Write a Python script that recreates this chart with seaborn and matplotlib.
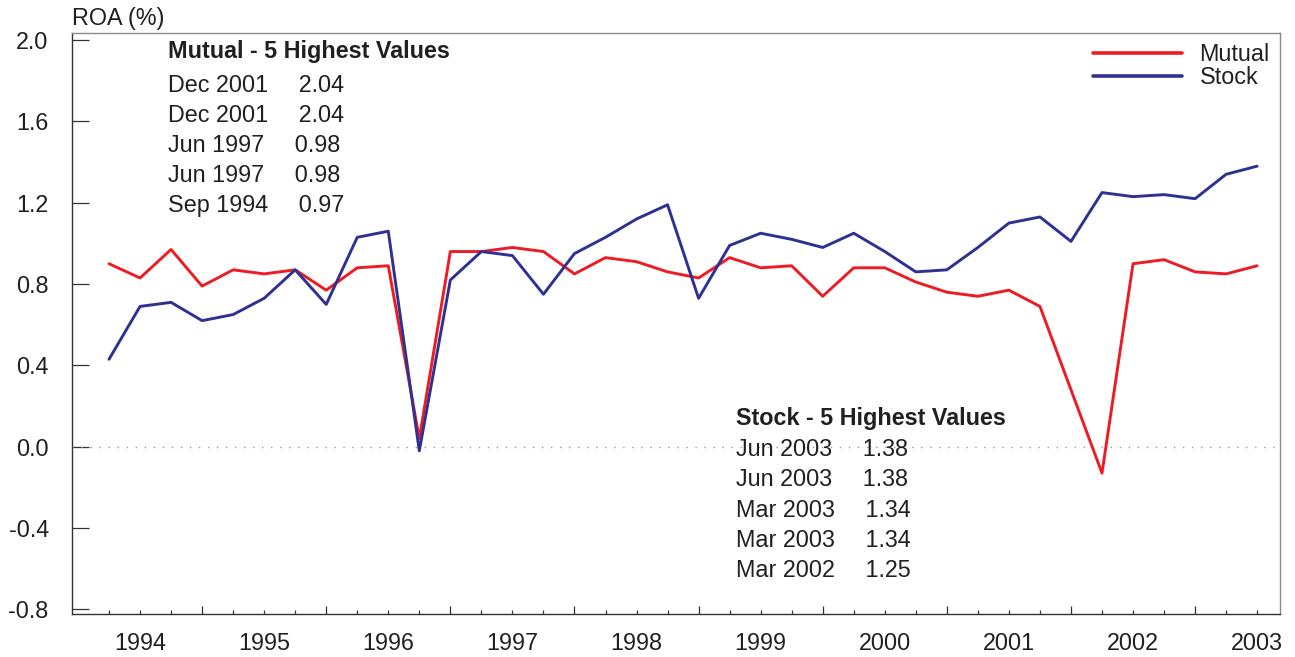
import matplotlib
matplotlib.use("Agg")
import matplotlib.pyplot as plt
import numpy as np
import pandas as pd
import seaborn as sns
from matplotlib.ticker import FixedLocator, FuncFormatter, NullFormatter

# Quarterly return on assets (%), March 1994 through June 2003
quarters = [str(p) for p in pd.period_range("1994Q1", "2003Q2", freq="Q")]
mutual_roa = [0.90, 0.83, 0.97, 0.79, 0.87, 0.85, 0.87, 0.77, 0.88, 0.89,
              0.04, 0.96, 0.96, 0.98, 0.96, 0.85, 0.93, 0.91, 0.86, 0.83,
              0.93, 0.88, 0.89, 0.74, 0.88, 0.88, 0.81, 0.76, 0.74, 0.77,
              0.69, 0.28, -0.13, 0.90, 0.92, 0.86, 0.85, 0.89]
stock_roa = [0.43, 0.69, 0.71, 0.62, 0.65, 0.73, 0.87, 0.70, 1.03, 1.06,
             -0.02, 0.82, 0.96, 0.94, 0.75, 0.95, 1.03, 1.12, 1.19, 0.73,
             0.99, 1.05, 1.02, 0.98, 1.05, 0.96, 0.86, 0.87, 0.98, 1.10,
             1.13, 1.01, 1.25, 1.23, 1.24, 1.22, 1.34, 1.38]
series_names = ["Mutual", "Stock"]
series_colors = ["#ed1c24", "#2e3192"]
y_ticks = [-0.8, -0.4, 0.0, 0.4, 0.8, 1.2, 1.6, 2.0]
y_tick_labels = ["-0.8", "-0.4", "0.0", "0.4", "0.8", "1.2", "1.6", "2.0"]

mutual_top_dates = ["Dec 2001", "Dec 2001", "Jun 1997", "Jun 1997", "Sep 1994"]
mutual_top_values = ["2.04", "2.04", "0.98", "0.98", "0.97"]
stock_top_dates = ["Jun 2003", "Jun 2003", "Mar 2003", "Mar 2003", "Mar 2002"]
stock_top_values = ["1.38", "1.38", "1.34", "1.34", "1.25"]

n = len(quarters)
df = pd.DataFrame({
    "pos": list(range(n)) * 2,
    "quarter": quarters * 2,
    "roa": mutual_roa + stock_roa,
    "type": [series_names[0]] * n + [series_names[1]] * n,
})

sns.set_theme(style="white")
plt.rcParams["font.family"] = ["Liberation Sans", "DejaVu Sans"]
ink = "#231f20"
fs = 16.8

W, H = 1295, 657
fig = plt.figure(figsize=(W / 100, H / 100), dpi=100)
left, right, top, bottom = 71.7, 1279.5, 33.0, 613.5
ax = fig.add_axes([left / W, 1 - bottom / H, (right - left) / W, (bottom - top) / H])

ax.axhline(0, color="#9a9a9a", lw=1.0, linestyle=(0, (1, 5.5)), zorder=1)

sns.lineplot(data=df, x="pos", y="roa", hue="type",
             palette=dict(zip(series_names, series_colors)),
             linewidth=2.1, ax=ax, zorder=3)

ax.set_xlim(-1.202, 37.72)
ax.set_ylim(-0.8205, 2.035)
ax.set_xlabel("")
ax.set_ylabel("")

# x axis: long marks at December, short marks at other quarters, year under June
dec_idx = [i for i, q in enumerate(quarters) if q.endswith("Q4")]
other_idx = [i for i, q in enumerate(quarters) if not q.endswith("Q4")]
ax.xaxis.set_major_locator(FixedLocator(dec_idx))
ax.xaxis.set_major_formatter(NullFormatter())
ax.xaxis.set_minor_locator(FixedLocator(other_idx))
ax.xaxis.set_minor_formatter(FuncFormatter(
    lambda v, p: quarters[int(round(v))][:4] if quarters[int(round(v))].endswith("Q2") else ""))
ax.tick_params(axis="x", which="major", direction="in", length=5.5, width=0.9,
               color="#333333", bottom=True)
ax.tick_params(axis="x", which="minor", direction="in", length=3.0, width=0.9,
               color="#333333", bottom=True, pad=13, labelsize=fs, labelcolor=ink)

ax.set_yticks(y_ticks)
ax.set_yticklabels(y_tick_labels)
ax.tick_params(axis="y", which="major", direction="in", length=12, width=0.9,
               color="#333333", left=True, pad=16.6, labelsize=fs, labelcolor=ink)

for side in ["left", "bottom"]:
    ax.spines[side].set_color("#333333")
    ax.spines[side].set_linewidth(1.0)
for side in ["top", "right"]:
    ax.spines[side].set_color("#8a8a8a")
    ax.spines[side].set_linewidth(1.0)

handles, labels = ax.get_legend_handles_labels()
leg = ax.legend(handles, labels, loc="upper right", bbox_to_anchor=(0.992, 0.982),
                frameon=False, fontsize=fs, handlelength=3.8, handletextpad=0.77,
                labelspacing=0.0, borderpad=0.0, borderaxespad=0.0)
for line in leg.get_lines():
    line.set_linewidth(2.6)
for t in leg.get_texts():
    t.set_color(ink)


def fig_text(x, y, s, **kw):
    fig.text(x / W, 1 - y / H, s, color=ink, fontsize=fs, va="baseline", **kw)


fig_text(72, 25, "ROA (%)", ha="left")

gap = "    \u2009"
fig_text(168, 58, "Mutual - 5 Highest Values", ha="left", fontweight="bold")
for k, (d, v) in enumerate(zip(mutual_top_dates, mutual_top_values)):
    fig_text(168, 92 + 30 * k, d + gap + v, ha="left")

fig_text(736, 425, "Stock - 5 Highest Values", ha="left", fontweight="bold")
for k, (d, v) in enumerate(zip(stock_top_dates, stock_top_values)):
    fig_text(736, 456 + 30.3 * k, d + gap + v, ha="left")

fig.savefig("out.png", dpi=100, facecolor="white")
